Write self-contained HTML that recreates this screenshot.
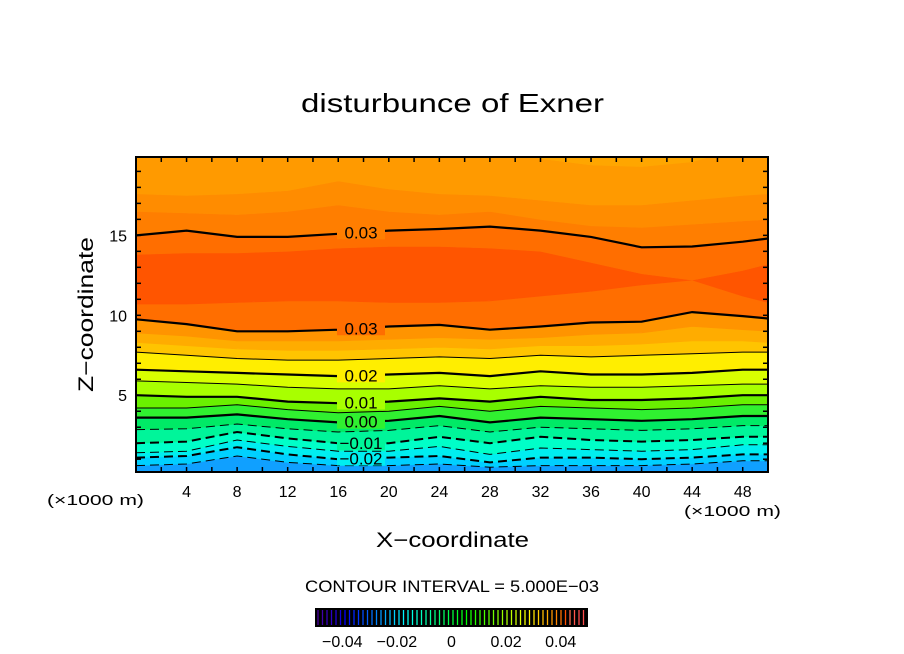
<!DOCTYPE html>
<html><head><meta charset="utf-8"><style>
html,body{margin:0;padding:0;background:#fff;width:904px;height:654px;overflow:hidden}
text{font-family:"Liberation Sans",sans-serif}
</style></head><body>
<svg id="chart" width="904" height="654" viewBox="0 0 904 654" xmlns="http://www.w3.org/2000/svg">
<text x="301" y="112" textLength="303" lengthAdjust="spacingAndGlyphs" font-size="26" fill="#000">disturbunce of Exner</text>
<g id="bands"></g>
<g id="lines"></g>
<g id="axes"></g>
<text transform="translate(93,392) rotate(-90)" textLength="155" lengthAdjust="spacingAndGlyphs" font-size="21">Z−coordinate</text>
<text x="376" y="547" textLength="153" lengthAdjust="spacingAndGlyphs" font-size="21">X−coordinate</text>
<text x="47" y="505" textLength="97" lengthAdjust="spacingAndGlyphs" font-size="15">(×1000 m)</text>
<text x="684" y="516" textLength="97" lengthAdjust="spacingAndGlyphs" font-size="15">(×1000 m)</text>
<text x="305" y="592" textLength="294" lengthAdjust="spacingAndGlyphs" font-size="17">CONTOUR INTERVAL = 5.000E−03</text>
<g id="cbar"></g>
</svg>
<script>
const xs=[0,4,8,12,16,20,24,28,32,36,40,44,48,50];
const m025=[0.6,0.7,1.2,0.8,0.6,0.6,0.7,0.5,0.6,0.6,0.6,0.7,0.9,0.9];
const m020=[1.1,1.2,1.75,1.3,1.0,1.1,1.2,0.8,1.1,1.1,1.0,1.1,1.3,1.3];
const m015=[1.4,1.5,2.2,1.8,1.5,1.5,1.8,1.3,1.7,1.6,1.5,1.6,1.9,1.9];
const m010=[2.0,2.1,2.7,2.3,2.0,2.0,2.4,2.0,2.4,2.2,2.1,2.2,2.4,2.4];
const m005=[2.85,2.9,3.2,2.9,2.7,2.8,3.1,2.7,3.0,2.9,2.8,2.9,3.1,3.1];
const z000=[3.6,3.6,3.8,3.5,3.3,3.4,3.7,3.3,3.6,3.5,3.4,3.5,3.7,3.7];
const p005=[4.2,4.2,4.4,4.1,3.9,4.0,4.3,4.0,4.3,4.2,4.1,4.2,4.4,4.4];
const p010=[5.0,4.9,4.9,4.6,4.5,4.6,4.8,4.6,4.9,4.7,4.7,4.8,5.0,5.0];
const p015=[5.9,5.8,5.7,5.5,5.4,5.4,5.6,5.4,5.6,5.5,5.5,5.6,5.7,5.7];
const p020=[6.6,6.5,6.4,6.3,6.2,6.3,6.4,6.2,6.5,6.3,6.3,6.4,6.6,6.6];
const p025=[7.7,7.5,7.3,7.2,7.2,7.3,7.4,7.3,7.5,7.4,7.5,7.6,7.7,7.7];
const p0265=[8.3,8.1,7.9,7.8,7.8,7.9,8.0,7.9,8.1,8.1,8.2,8.4,8.4,8.3];
const p028=[8.9,8.7,8.4,8.4,8.4,8.5,8.6,8.5,8.6,8.8,8.9,9.3,9.1,9.0];
const p030=[9.75,9.45,9.0,9.0,9.1,9.3,9.4,9.1,9.3,9.55,9.6,10.2,9.95,9.8];
const innerLow=[10.7,10.7,10.8,10.9,10.9,10.8,10.8,10.9,11.2,11.5,11.9,12.2,11.2,10.8];
const innerHigh=[13.8,13.9,13.9,14.0,14.2,14.3,14.3,14.2,14.0,13.3,12.6,12.2,12.8,13.2];
const u030=[15.0,15.3,14.9,14.9,15.1,15.3,15.4,15.55,15.3,14.9,14.25,14.3,14.6,14.8];
const u0275=[16.5,16.4,16.3,16.5,16.9,16.5,16.3,16.5,16.0,15.6,15.5,15.7,15.9,16.0];
const u025=[17.6,17.5,17.6,17.8,18.4,17.9,17.6,17.5,17.2,16.9,16.9,17.2,17.5,17.6];
const u0225=[20.5,20.5,20.5,20.5,20.5,20.5,20.5,20.5,19.8,19.4,19.3,19.6,20.5,20.5];
const bottomZ=[0,0,0,0,0,0,0,0,0,0,0,0,0,0];
const topZ=[21,21,21,21,21,21,21,21,21,21,21,21,21,21];
const boundaries=[bottomZ,m025,m020,m015,m010,m005,z000,p005,p010,p015,p020,p025,p0265,p028,p030,innerLow,innerHigh,u030,u0275,u025,u0225,topZ];
const bandColors=["#10a0ff","#00d0ff","#00eef0","#00ffc8","#00f59a","#00ea66","#30f030","#6af000","#a8ff00","#d8ff00","#ffee00","#ffc400","#ffac00","#ff9400","#ff6e00","#ff5500","#ff6e00","#ff7e00","#ff8c00","#ff9a00","#ffa600"];
const xTicks=[4,8,12,16,20,24,28,32,36,40,44,48];
const yTicks=[5,10,15];
const cbTicks=[-0.04,-0.02,0,0.02,0.04];
const cbLabels=["−0.04","−0.02","0","0.02","0.04"];

const NS="http://www.w3.org/2000/svg";
const X0=136,X1=768,Y0=157,Y1=472,XMIN=0,XMAX=50,ZMIN=0.2,ZMAX=19.9;
const sx=x=>X0+(x-XMIN)/(XMAX-XMIN)*(X1-X0);
const sy=z=>Y1-(z-ZMIN)/(ZMAX-ZMIN)*(Y1-Y0);
function mk(tag,attrs,parent){const e=document.createElementNS(NS,tag);for(const k in attrs)e.setAttribute(k,attrs[k]);parent.appendChild(e);return e;}
const svg=document.getElementById('chart');
const defs=mk('defs',{},svg);
const cp=mk('clipPath',{id:'plotclip'},defs);
mk('rect',{x:X0,y:Y0,width:X1-X0,height:Y1-Y0},cp);
function pts(arr){return xs.map((x,i)=>sx(x).toFixed(1)+','+sy(arr[i]).toFixed(1));}
const bandsG=document.getElementById('bands');bandsG.setAttribute('clip-path','url(#plotclip)');
for(let b=0;b<bandColors.length;b++){
  const lo=boundaries[b],hi=boundaries[b+1];
  const p=pts(lo).concat(pts(hi).reverse());
  const e=mk('polygon',{points:p.join(' '),fill:bandColors[b],stroke:bandColors[b],'stroke-width':0.6},bandsG);
  
  
}
const linesG=document.getElementById('lines');linesG.setAttribute('clip-path','url(#plotclip)');
const lineDefs=[[m025,1,true,null],[m020,2,true,"−0.02"],[m015,1,true,null],[m010,2,true,"−0.01"],[m005,1,true,null],[z000,2.2,false,"0.00"],[p005,1,false,null],[p010,2.2,false,"0.01"],[p015,1,false,null],[p020,2.2,false,"0.02"],[p025,1,false,null],[p030,2.2,false,"0.03"],[u030,2.2,false,"0.03"]];
const labX=17.8;
lineDefs.forEach(([arr,w,dash,lab])=>{
  const e=mk('polyline',{points:pts(arr).join(' '),fill:'none',stroke:'#000','stroke-width':w},linesG);
  if(dash)e.setAttribute('stroke-dasharray','9,5');
  
  
  if(lab){
    let i=0;while(xs[i+1]<labX)i++;
    const t=(labX-xs[i])/(xs[i+1]-xs[i]);const z=arr[i]+t*(arr[i+1]-arr[i]);
    const bg=bandColors[Math.min(boundaries.indexOf(arr),bandColors.length-1)];
    mk('rect',{x:sx(labX)-24,y:sy(z)-7,width:48,height:14,fill:bg},linesG);
    const tx=mk('text',{x:sx(labX),y:sy(z)+6,'text-anchor':'middle','font-size':17,fill:'#000'},linesG);
    tx.textContent=lab;
    
    
  }
});
const ax=document.getElementById('axes');
const fr=mk('rect',{x:X0,y:Y0,width:X1-X0,height:Y1-Y0,fill:'none',stroke:'#000','stroke-width':2},ax);

for(let x=2;x<50;x+=2){mk('line',{x1:sx(x),x2:sx(x),y1:Y1,y2:Y1-5,stroke:'#000','stroke-width':1.5},ax);mk('line',{x1:sx(x),x2:sx(x),y1:Y0,y2:Y0+5,stroke:'#000','stroke-width':1.5},ax);}
for(let z=1;z<20;z++){mk('line',{x1:X0,x2:X0+5,y1:sy(z),y2:sy(z),stroke:'#000','stroke-width':1.5},ax);mk('line',{x1:X1,x2:X1-5,y1:sy(z),y2:sy(z),stroke:'#000','stroke-width':1.5},ax);}
xTicks.forEach(v=>{const t=mk('text',{x:sx(v),y:497,'text-anchor':'middle','font-size':16},ax);t.textContent=v;
  });
yTicks.forEach(v=>{const t=mk('text',{x:127,y:sy(v)+6,'text-anchor':'end','font-size':16},ax);t.textContent=v;
  });
const cb=document.getElementById('cbar');
const CX0=315,CX1=588,CY0=608,CY1=627,CMIN=-0.05,CMAX=0.05;
const cx=v=>CX0+(v-CMIN)/(CMAX-CMIN)*(CX1-CX0);
mk('rect',{x:CX0,y:CY0,width:CX1-CX0,height:CY1-CY0,fill:'#000'},cb);
function cbColor(v){const t=(v-CMIN)/(CMAX-CMIN);const h=Math.max(0,270*(1-t)-(t>0.9?20*(t-0.9)/0.1:0));const l=t<0.1?30+t*150:(t>0.92?65:50);return 'hsl('+((h+360)%360)+',100%,'+l+'%)';}
for(let x=CX0+3;x<CX1-2;x+=4.5){const v=CMIN+(x-CX0)/(CX1-CX0)*(CMAX-CMIN);
  mk('line',{x1:x,x2:x,y1:CY0+2,y2:CY1-2,stroke:cbColor(v),'stroke-width':1.3},cb);}
cbTicks.forEach((v,i)=>{const t=mk('text',{x:cx(v),y:647,'text-anchor':'middle','font-size':16},cb);t.textContent=cbLabels[i];
  });
</script>
</body></html>
